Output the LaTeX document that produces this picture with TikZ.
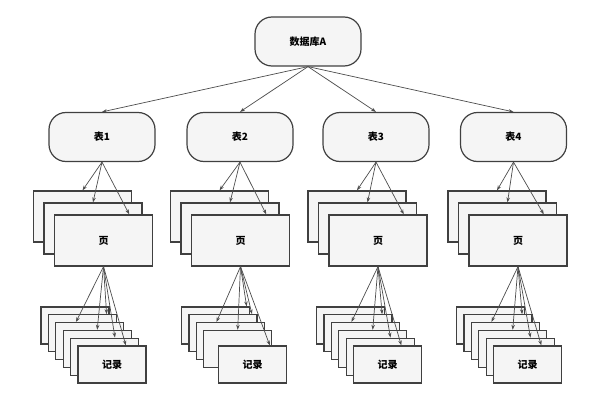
\documentclass[tikz,border=0pt]{standalone}
\usepackage{fontspec}
\newfontfamily\cjk{Noto Sans CJK SC}
\usetikzlibrary{arrows.meta,positioning,calc}

\begin{document}
\begin{tikzpicture}[
    x=1pt, y=-1pt,
    box/.style={rectangle, draw=black!75, fill=gray!8, line width=1.2pt, font=\cjk\bfseries\fontsize{10}{12}\selectfont, inner sep=0pt},
    base/.style={box, rounded corners=17pt, minimum width=106pt, minimum height=49pt},
    page/.style={box, minimum width=98pt, minimum height=51pt},
    record/.style={box, minimum width=68pt, minimum height=37pt},
    arrow/.style={draw=black!70, line width=0.7pt, -{Stealth[length=5pt,width=3.5pt]}}
]
\useasboundingbox (0,0) rectangle (591,401);

% Database and tables
\node[base] (db) at (308,41.5) {数据库A};
\node[base] (t1) at (102,137) {表1};
\node[base] (t2) at (240,137) {表2};
\node[base] (t3) at (376,137) {表3};
\node[base] (t4) at (513.5,137) {表4};

% Pages
\node[page] (p1a) at (82.5,216.5) {};
\node[page] (p1b) at (93,228.5) {};
\node[page] (p1) at (103.5,240.5) {页};
\node[page] (p2a) at (219.5,216.5) {};
\node[page] (p2b) at (230,228.5) {};
\node[page] (p2) at (240.5,240.5) {页};
\node[page] (p3a) at (357,216.5) {};
\node[page] (p3b) at (367.5,228.5) {};
\node[page] (p3) at (378,240.5) {页};
\node[page] (p4a) at (497,216.5) {};
\node[page] (p4b) at (507.5,228.5) {};
\node[page] (p4) at (518,240.5) {页};

% Records
\node[record] (r1a) at (75,325.5) {};
\node[record] (r1b) at (82.4,333.3) {};
\node[record] (r1c) at (89.8,341.1) {};
\node[record] (r1d) at (97.2,348.9) {};
\node[record] (r1e) at (104.6,356.7) {};
\node[record] (r1) at (112,364.5) {记录};
\node[record] (r2a) at (215.5,325.5) {};
\node[record] (r2b) at (222.9,333.3) {};
\node[record] (r2c) at (230.3,341.1) {};
\node[record] (r2d) at (237.7,348.9) {};
\node[record] (r2) at (252.5,364.5) {记录};
\node[record] (r3a) at (350.5,325.5) {};
\node[record] (r3b) at (357.9,333.3) {};
\node[record] (r3c) at (365.3,341.1) {};
\node[record] (r3d) at (372.7,348.9) {};
\node[record] (r3e) at (380.1,356.7) {};
\node[record] (r3) at (387.5,364.5) {记录};
\node[record] (r4a) at (490.5,325.5) {};
\node[record] (r4b) at (497.9,333.3) {};
\node[record] (r4c) at (505.3,341.1) {};
\node[record] (r4d) at (512.7,348.9) {};
\node[record] (r4e) at (520.1,356.7) {};
\node[record] (r4) at (527.5,364.5) {记录};

% Arrows
\draw[arrow] (db.south) -- (t1.north);
\draw[arrow] (db.south) -- (t2.north);
\draw[arrow] (db.south) -- (t3.north);
\draw[arrow] (db.south) -- (t4.north);

\draw[arrow] (t1.south) -- (p1a.north);
\draw[arrow] (t1.south) -- (p1b.north);
\draw[arrow] (t1.south) -- ($(p1.north west)!0.76!(p1.north east)$);
\draw[arrow] (t2.south) -- (p2a.north);
\draw[arrow] (t2.south) -- (p2b.north);
\draw[arrow] (t2.south) -- ($(p2.north west)!0.76!(p2.north east)$);
\draw[arrow] (t3.south) -- (p3a.north);
\draw[arrow] (t3.south) -- (p3b.north);
\draw[arrow] (t3.south) -- ($(p3.north west)!0.76!(p3.north east)$);
\draw[arrow] (t4.south) -- (p4a.north);
\draw[arrow] (t4.south) -- (p4b.north);
\draw[arrow] (t4.south) -- ($(p4.north west)!0.76!(p4.north east)$);

\draw[arrow] (p1.south) -- ($(r1c.north west)!0.3!(r1c.north east)$);
\draw[arrow] (p1.south) -- ($(r1d.north west)!0.5!(r1d.north east)$);
\draw[arrow] (p1.south) -- ($(r1b.north west)!0.85!(r1b.north east)$);
\draw[arrow] (p1.south) -- ($(r1e.north west)!0.65!(r1e.north east)$);
\draw[arrow] (p1.south) -- ($(r1.north west)!0.7!(r1.north east)$);
\draw[arrow] (p2.south) -- ($(r2c.north west)!0.3!(r2c.north east)$);
\draw[arrow] (p2.south) -- ($(r2d.north west)!0.5!(r2d.north east)$);
\draw[arrow] (p2.south) -- ($(r2a.north west)!0.95!(r2a.north east)$);
\draw[arrow] (p2.south) -- ($(r2b.north west)!0.92!(r2b.north east)$);
\draw[arrow] (p2.south) -- ($(r2.north west)!0.75!(r2.north east)$);
\draw[arrow] (p3.south) -- ($(r3c.north west)!0.3!(r3c.north east)$);
\draw[arrow] (p3.south) -- ($(r3d.north west)!0.5!(r3d.north east)$);
\draw[arrow] (p3.south) -- ($(r3b.north west)!0.85!(r3b.north east)$);
\draw[arrow] (p3.south) -- ($(r3e.north west)!0.65!(r3e.north east)$);
\draw[arrow] (p3.south) -- ($(r3.north west)!0.7!(r3.north east)$);
\draw[arrow] (p4.south) -- ($(r4c.north west)!0.3!(r4c.north east)$);
\draw[arrow] (p4.south) -- ($(r4d.north west)!0.5!(r4d.north east)$);
\draw[arrow] (p4.south) -- ($(r4b.north west)!0.85!(r4b.north east)$);
\draw[arrow] (p4.south) -- ($(r4e.north west)!0.65!(r4e.north east)$);
\draw[arrow] (p4.south) -- ($(r4.north west)!0.7!(r4.north east)$);
\end{tikzpicture}
\end{document}
